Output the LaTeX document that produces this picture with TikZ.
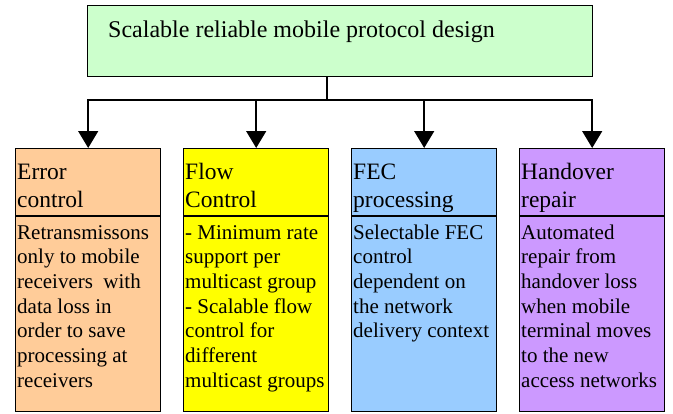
\documentclass[tikz,border=0pt]{standalone}
\usepackage{fontspec}
\setmainfont{Liberation Serif}
\usetikzlibrary{arrows.meta}

\definecolor{titlegreen}{HTML}{CCFFCC}
\definecolor{peach}{HTML}{FFCC99}
\definecolor{brightyellow}{HTML}{FFFF00}
\definecolor{skyblue}{HTML}{99CCFF}
\definecolor{lilac}{HTML}{CC99FF}

\tikzset{
  titlebox/.style={draw=black, line width=1.4pt, fill=titlegreen, inner sep=0pt,
    minimum width=505pt, minimum height=71pt, anchor=north west},
  childbox/.style={draw=black, line width=1.4pt, inner sep=0pt,
    minimum width=145pt, minimum height=263pt, anchor=north west},
  divider/.style={line width=1.4pt},
  % multi-line nodes: the base anchor sits on the last line's baseline
  titletext/.style={inner sep=0pt, anchor=base west, font=\fontsize{24}{29}\selectfont},
  hdr/.style={inner sep=0pt, anchor=base west, align=left, font=\fontsize{23.5}{28}\selectfont},
  bodytext/.style={inner sep=0pt, anchor=base west, align=left, font=\fontsize{21}{24.7}\selectfont},
  conn/.style={line width=1.5pt},
  arrowconn/.style={line width=1.5pt, -{Triangle[width=20pt,length=17pt]}}
}

\begin{document}
\begin{tikzpicture}[x=1pt,y=-1pt]
  \useasboundingbox (0,0) rectangle (673,413);

  % root of the hierarchy
  \node[titlebox] (top) at (87,5) {};
  \node[titletext] (toptext) at (108,37) {Scalable reliable mobile protocol design};

  % the four design areas
  \node[childbox, fill=peach] (c1) at (15,148) {};
  \node[childbox, fill=brightyellow] (c2) at (183,148) {};
  \node[childbox, fill=skyblue] (c3) at (351,148) {};
  \node[childbox, fill=lilac] (c4) at (519,148) {};

  % header / body separators
  \foreach \c in {c1,c2,c3,c4}
    \draw[divider] (\c.west |- 0,216) -- (\c.east |- 0,216);

  % headers (two lines, last baseline at 207)
  \node[hdr] (h1) at (17,207) {Error\\control};
  \node[hdr] (h2) at (185,207) {Flow\\Control};
  \node[hdr] (h3) at (353,207) {FEC\\processing};
  \node[hdr] (h4) at (521,207) {Handover\\repair};

  % descriptions (first baseline at 239)
  \node[bodytext] (b1) at (17,387.2) {Retransmissons\\only to mobile\\receivers\ \ with\\data loss in\\order to save\\processing at\\receivers};
  \node[bodytext] (b2) at (185,387.2) {- Minimum rate\\support per\\multicast group\\- Scalable flow\\control for\\different\\multicast groups};
  \node[bodytext] (b3) at (353,337.8) {Selectable FEC\\control\\dependent on\\the network\\delivery context};
  \node[bodytext] (b4) at (521,387.2) {Automated\\repair from\\handover loss\\when mobile\\terminal moves\\to the new\\access networks};

  % tree connectors
  \coordinate (j) at (327,100);
  \draw[conn] (top.south -| j) -- (j);
  \foreach \c in {c1,c2,c3,c4}
    \draw[arrowconn] (j) -| (\c.north);
\end{tikzpicture}
\end{document}
